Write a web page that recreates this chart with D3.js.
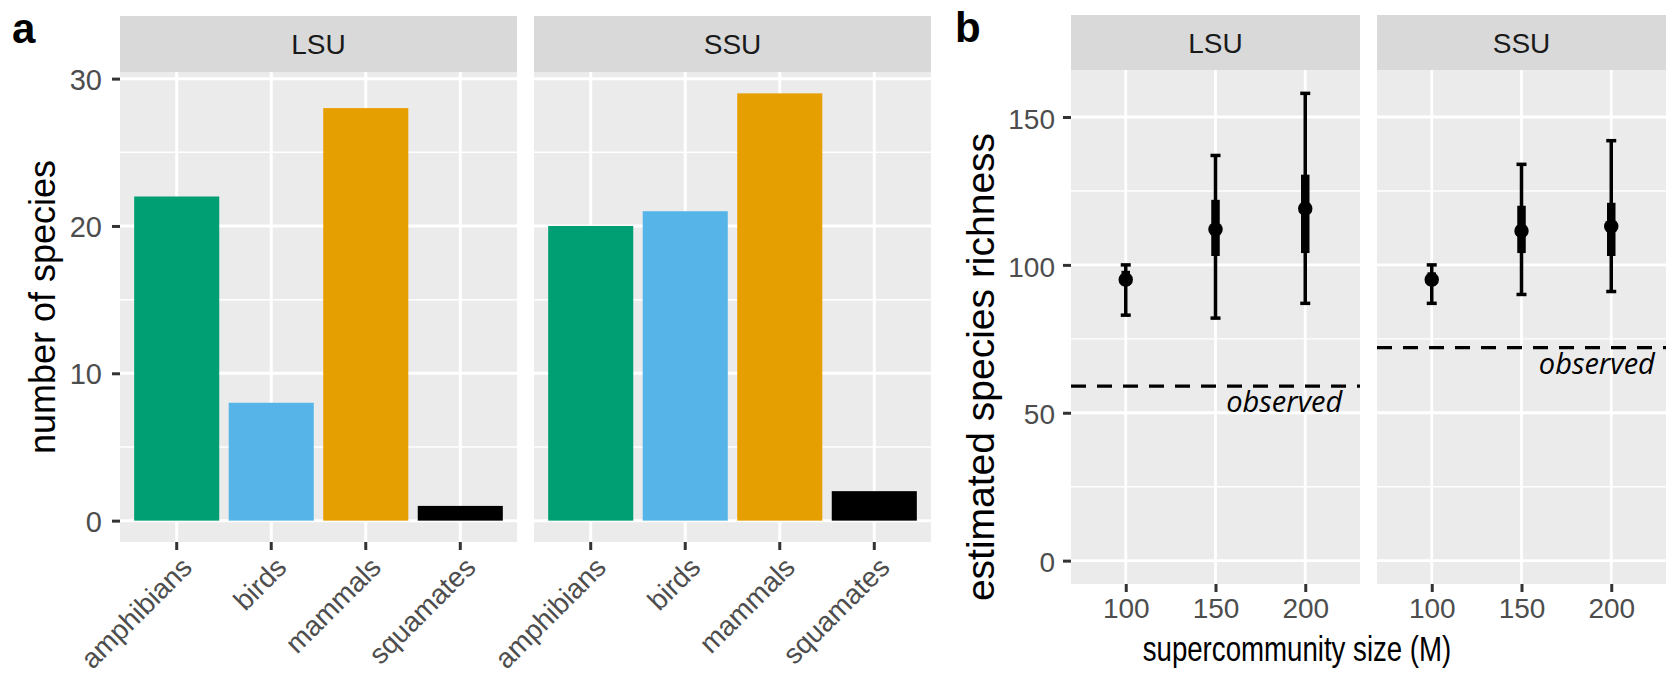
<!DOCTYPE html>
<html>
<head>
<meta charset="utf-8">
<script src="https://cdn.jsdelivr.net/npm/d3@7"></script>
<style>
  html, body { margin: 0; padding: 0; background: #fff; }
  svg { display: block; }
</style>
</head>
<body>
<svg id="chart" width="1667" height="680"></svg>
<script>
// ---------------- data ----------------
const facets = ["LSU", "SSU"];
const taxa = ["amphibians", "birds", "mammals", "squamates"];
const taxaColors = ["#009E73", "#56B4E9", "#E69F00", "#000000"];
const speciesLSU = [22, 8, 28, 1];
const speciesSSU = [20, 21, 29, 2];

const superSizes = [100, 150, 200];
const estLSU  = [95, 112, 119];
const lo95LSU = [83, 82, 87];
const hi95LSU = [100, 137, 158];
const lo50LSU = [93, 103, 104];
const hi50LSU = [98, 122, 130.5];
const estSSU  = [95, 111.5, 113];
const lo95SSU = [87, 90, 91];
const hi95SSU = [100, 134, 142];
const lo50SSU = [93, 104, 103];
const hi50SSU = [97.5, 120, 121];
const observedRichness = [59, 72];   // LSU, SSU
const observedLabel = "observed";

const yTicksA = [0, 10, 20, 30];
const yMinorA = [5, 15, 25];
const yTicksB = [0, 50, 100, 150];
const yMinorB = [25, 75, 125];
const xTicksB = [100, 150, 200];

// ---------------- layout ----------------
const svg = d3.select("#chart");
const FONT = "'Liberation Sans', Arial, Helvetica, sans-serif";
const PANEL_BG = "#EBEBEB", STRIP_BG = "#D9D9D9";
const TICK_COL = "#333333", TICKLAB_COL = "#4D4D4D";
const TICK_FS = 28, STRIP_FS = 28;

// Panel a
const aPanels = [{x0: 120, x1: 517}, {x0: 534, x1: 931}];
const aTop = 72, aBottom = 542, aStripTop = 16;
const yA = d3.scaleLinear().domain([-1.45, 30.45]).range([aBottom, aTop]);

// Panel b
const bPanels = [{x0: 1071, x1: 1360}, {x0: 1377, x1: 1666}];
const bTop = 70, bBottom = 584, bStripTop = 15;
const yB = d3.scaleLinear().domain([-7.9, 165.9]).range([bBottom, bTop]);
const labelXB = [220.6, 224.3];   // data-space right end of "observed" label

function drawStrip(x0, x1, top, bottom, label) {
  svg.append("rect").attr("x", x0).attr("y", top).attr("width", x1 - x0)
    .attr("height", bottom - top).attr("fill", STRIP_BG);
  svg.append("text").attr("x", (x0 + x1) / 2).attr("y", top + (bottom - top) / 2 + 10)
    .attr("text-anchor", "middle").attr("font-family", FONT).attr("font-size", STRIP_FS)
    .attr("fill", "#1A1A1A").text(label);
}

// ---------- Panel a ----------
const speciesByFacet = [speciesLSU, speciesSSU];
aPanels.forEach((p, fi) => {
  const x = d3.scaleBand().domain(taxa).range([p.x0, p.x1])
    .paddingInner(0.1).paddingOuter(0.15);
  const g = svg.append("g");
  g.append("rect").attr("x", p.x0).attr("y", aTop).attr("width", p.x1 - p.x0)
    .attr("height", aBottom - aTop).attr("fill", PANEL_BG);
  g.selectAll(".ymin").data(yMinorA).join("line")
    .attr("x1", p.x0).attr("x2", p.x1).attr("y1", d => yA(d)).attr("y2", d => yA(d))
    .attr("stroke", "#fff").attr("stroke-width", 1.5);
  g.selectAll(".ymaj").data(yTicksA).join("line")
    .attr("x1", p.x0).attr("x2", p.x1).attr("y1", d => yA(d)).attr("y2", d => yA(d))
    .attr("stroke", "#fff").attr("stroke-width", 3);
  g.selectAll(".xmaj").data(taxa).join("line")
    .attr("x1", d => x(d) + x.bandwidth() / 2).attr("x2", d => x(d) + x.bandwidth() / 2)
    .attr("y1", aTop).attr("y2", aBottom)
    .attr("stroke", "#fff").attr("stroke-width", 3);
  g.selectAll(".bar").data(taxa).join("rect")
    .attr("x", d => x(d)).attr("width", x.bandwidth())
    .attr("y", (d, i) => yA(speciesByFacet[fi][i]))
    .attr("height", (d, i) => yA(0) - yA(speciesByFacet[fi][i]))
    .attr("fill", (d, i) => taxaColors[i]);
  const ax = g.append("g").attr("transform", `translate(0,${aBottom})`)
    .call(d3.axisBottom(x).tickSize(8).tickSizeOuter(0).tickPadding(0));
  ax.select(".domain").remove();
  ax.selectAll(".tick line").attr("stroke", TICK_COL).attr("stroke-width", 3);
  ax.selectAll(".tick text")
    .attr("font-family", FONT).attr("font-size", 28).attr("fill", TICKLAB_COL)
    .attr("text-anchor", "end").attr("dy", null).attr("y", 0)
    .attr("transform", "translate(17,27) rotate(-45)");
  drawStrip(p.x0, p.x1, aStripTop, aTop, facets[fi]);
});
{
  const ay = svg.append("g").attr("transform", `translate(${aPanels[0].x0},0)`)
    .call(d3.axisLeft(yA).tickValues(yTicksA).tickSize(8).tickPadding(10));
  ay.select(".domain").remove();
  ay.selectAll(".tick line").attr("stroke", TICK_COL).attr("stroke-width", 3);
  ay.selectAll(".tick text").attr("font-family", FONT).attr("font-size", 29)
    .attr("fill", TICKLAB_COL).attr("dy", "0.36em");
  svg.append("text")
    .attr("transform", `translate(55,${(aTop + aBottom) / 2}) rotate(-90)`)
    .attr("text-anchor", "middle").attr("font-family", FONT).attr("font-size", 36)
    .attr("fill", "#000").text("number of species");
  svg.append("text").attr("x", 12).attr("y", 43).attr("font-family", FONT)
    .attr("font-weight", "bold").attr("font-size", 42).text("a");
}

// ---------- Panel b ----------
const estByFacet = [
  {est: estLSU, lo95: lo95LSU, hi95: hi95LSU, lo50: lo50LSU, hi50: hi50LSU},
  {est: estSSU, lo95: lo95SSU, hi95: hi95SSU, lo50: lo50SSU, hi50: hi50SSU}
];
bPanels.forEach((p, fi) => {
  const x = d3.scaleLinear().domain([69.5, 230.5]).range([p.x0, p.x1]);
  const g = svg.append("g");
  const d = estByFacet[fi];
  g.append("rect").attr("x", p.x0).attr("y", bTop).attr("width", p.x1 - p.x0)
    .attr("height", bBottom - bTop).attr("fill", PANEL_BG);
  g.selectAll(".ymin").data(yMinorB).join("line")
    .attr("x1", p.x0).attr("x2", p.x1).attr("y1", v => yB(v)).attr("y2", v => yB(v))
    .attr("stroke", "#fff").attr("stroke-width", 1.4);
  g.selectAll(".ymaj").data(yTicksB).join("line")
    .attr("x1", p.x0).attr("x2", p.x1).attr("y1", v => yB(v)).attr("y2", v => yB(v))
    .attr("stroke", "#fff").attr("stroke-width", 2.8);
  g.selectAll(".xmaj").data(xTicksB).join("line")
    .attr("x1", v => x(v)).attr("x2", v => x(v)).attr("y1", bTop).attr("y2", bBottom)
    .attr("stroke", "#fff").attr("stroke-width", 2.8);
  g.append("line").attr("x1", p.x0).attr("x2", p.x1)
    .attr("y1", yB(observedRichness[fi])).attr("y2", yB(observedRichness[fi]))
    .attr("stroke", "#000").attr("stroke-width", 3.2).attr("stroke-dasharray", "15,11");
  g.append("text").attr("x", x(labelXB[fi])).attr("y", yB(observedRichness[fi]) + 26)
    .attr("text-anchor", "end").attr("font-family", "'Open Sans', 'Noto Sans', sans-serif")
    .attr("font-style", "italic").attr("font-size", 29).attr("fill", "#000")
    .attr("textLength", 116).attr("lengthAdjust", "spacingAndGlyphs")
    .text(observedLabel);
  const capHalf = 5;
  superSizes.forEach((s, i) => {
    const cx = x(s);
    g.append("line").attr("x1", cx).attr("x2", cx)
      .attr("y1", yB(d.lo95[i])).attr("y2", yB(d.hi95[i]))
      .attr("stroke", "#000").attr("stroke-width", 3.5);
    [d.lo95[i], d.hi95[i]].forEach(v => {
      g.append("line").attr("x1", cx - capHalf).attr("x2", cx + capHalf)
        .attr("y1", yB(v)).attr("y2", yB(v)).attr("stroke", "#000").attr("stroke-width", 3.5);
    });
    g.append("line").attr("x1", cx).attr("x2", cx)
      .attr("y1", yB(d.lo50[i])).attr("y2", yB(d.hi50[i]))
      .attr("stroke", "#000").attr("stroke-width", 8.5);
    g.append("circle").attr("cx", cx).attr("cy", yB(d.est[i])).attr("r", 7.2)
      .attr("fill", "#000");
  });
  const ax = g.append("g").attr("transform", `translate(0,${bBottom})`)
    .call(d3.axisBottom(x).tickValues(xTicksB).tickSize(8).tickPadding(6));
  ax.select(".domain").remove();
  ax.selectAll(".tick line").attr("stroke", TICK_COL).attr("stroke-width", 3);
  ax.selectAll(".tick text").attr("font-family", FONT).attr("font-size", TICK_FS)
    .attr("fill", TICKLAB_COL).attr("dy", "0.71em");
  drawStrip(p.x0, p.x1, bStripTop, bTop, facets[fi]);
});
{
  const ay = svg.append("g").attr("transform", `translate(${bPanels[0].x0},0)`)
    .call(d3.axisLeft(yB).tickValues(yTicksB).tickSize(8).tickPadding(8));
  ay.select(".domain").remove();
  ay.selectAll(".tick line").attr("stroke", TICK_COL).attr("stroke-width", 3);
  ay.selectAll(".tick text").attr("font-family", FONT).attr("font-size", TICK_FS)
    .attr("fill", TICKLAB_COL).attr("dy", "0.4em");
  svg.append("text")
    .attr("transform", `translate(994,367) rotate(-90)`)
    .attr("text-anchor", "middle").attr("font-family", FONT).attr("font-size", 39)
    .attr("fill", "#000").text("estimated species richness");
  svg.append("text")
    .attr("transform", "translate(1297,661) scale(0.79,1)")
    .attr("text-anchor", "middle").attr("font-family", FONT).attr("font-size", 35)
    .attr("fill", "#000").text("supercommunity size (M)");
  svg.append("text").attr("x", 955).attr("y", 42).attr("font-family", FONT)
    .attr("font-weight", "bold").attr("font-size", 42).text("b");
}
</script>
</body>
</html>
